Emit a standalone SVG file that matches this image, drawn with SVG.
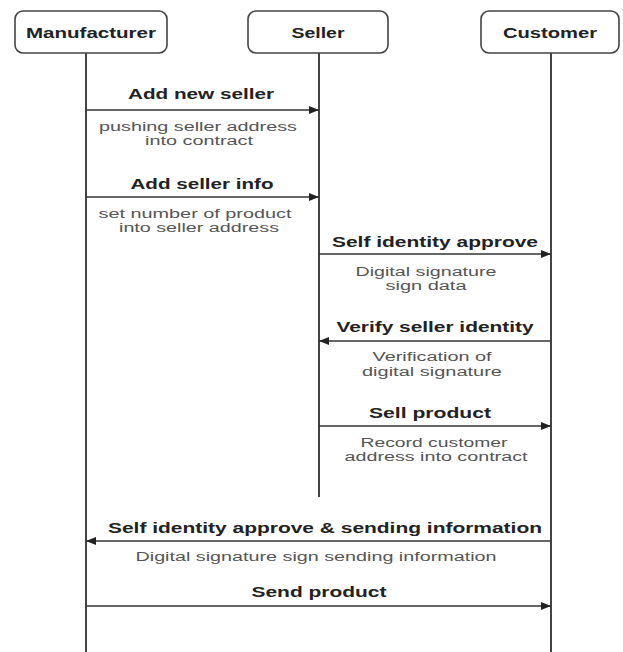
<svg xmlns="http://www.w3.org/2000/svg" width="623" height="652" viewBox="0 0 623 652">
<style>
.box{fill:#fff;stroke:#444;stroke-width:1.6}
.life{stroke:#444;stroke-width:2;fill:none}
.msg{stroke:#333;stroke-width:1.5;fill:none}
.t{font-family:"Liberation Sans",Arial,sans-serif;text-anchor:middle}
.b{font-weight:bold;font-size:14px;fill:#222}
.n{font-size:12px;fill:#555}
</style>
<defs>
<marker id="ah" viewBox="0 0 10 8" refX="10" refY="4" markerWidth="10" markerHeight="8" markerUnits="userSpaceOnUse" orient="auto">
<path d="M0,0 L10,4 L0,8 Z" fill="#222"/>
</marker>
</defs>
<rect width="623" height="652" fill="#fff"/>
<g id="lifelines">
<line class="life" x1="86" y1="53" x2="86" y2="652"/>
<line class="life" x1="319" y1="53" x2="319" y2="497"/>
<line class="life" x1="551" y1="53" x2="551" y2="652"/>
</g>
<g id="node-manufacturer">
<rect class="box" x="15" y="11" width="152" height="42" rx="8"/>
<text class="t b" x="91" y="38" textLength="130" lengthAdjust="spacingAndGlyphs">Manufacturer</text>
</g>
<g id="node-seller">
<rect class="box" x="248" y="11" width="140" height="42" rx="8"/>
<text class="t b" x="318" y="38" textLength="53" lengthAdjust="spacingAndGlyphs">Seller</text>
</g>
<g id="node-customer">
<rect class="box" x="481" y="11" width="138" height="42" rx="8"/>
<text class="t b" x="550" y="38" textLength="94" lengthAdjust="spacingAndGlyphs">Customer</text>
</g>
<g id="connectors">
<line class="msg" x1="86" y1="110" x2="319" y2="110" marker-end="url(#ah)"/>
<line class="msg" x1="86" y1="197" x2="319" y2="197" marker-end="url(#ah)"/>
<line class="msg" x1="319" y1="254" x2="551" y2="254" marker-end="url(#ah)"/>
<line class="msg" x1="551" y1="341" x2="319" y2="341" marker-end="url(#ah)"/>
<line class="msg" x1="319" y1="426" x2="551" y2="426" marker-end="url(#ah)"/>
<line class="msg" x1="551" y1="541" x2="86" y2="541" marker-end="url(#ah)"/>
<line class="msg" x1="86" y1="606" x2="551" y2="606" marker-end="url(#ah)"/>
</g>
<g id="labels">
<text class="t b" x="201" y="99" textLength="146" lengthAdjust="spacingAndGlyphs">Add new seller</text>
<text class="t n" x="198" y="131" textLength="198" lengthAdjust="spacingAndGlyphs">pushing seller address</text>
<text class="t n" x="199" y="145" textLength="108" lengthAdjust="spacingAndGlyphs">into contract</text>
<text class="t b" x="202" y="189" textLength="143" lengthAdjust="spacingAndGlyphs">Add seller info</text>
<text class="t n" x="195" y="218" textLength="193" lengthAdjust="spacingAndGlyphs">set number of product</text>
<text class="t n" x="199" y="232" textLength="160" lengthAdjust="spacingAndGlyphs">into seller address</text>
<text class="t b" x="435" y="247" textLength="206" lengthAdjust="spacingAndGlyphs">Self identity approve</text>
<text class="t n" x="426" y="276" textLength="141" lengthAdjust="spacingAndGlyphs">Digital signature</text>
<text class="t n" x="426" y="290" textLength="81" lengthAdjust="spacingAndGlyphs">sign data</text>
<text class="t b" x="435" y="332" textLength="197" lengthAdjust="spacingAndGlyphs">Verify seller identity</text>
<text class="t n" x="432" y="361" textLength="119" lengthAdjust="spacingAndGlyphs">Verification of</text>
<text class="t n" x="432" y="376" textLength="140" lengthAdjust="spacingAndGlyphs">digital signature</text>
<text class="t b" x="430" y="418" textLength="122" lengthAdjust="spacingAndGlyphs">Sell product</text>
<text class="t n" x="434" y="447" textLength="147" lengthAdjust="spacingAndGlyphs">Record customer</text>
<text class="t n" x="436" y="461" textLength="183" lengthAdjust="spacingAndGlyphs">address into contract</text>
<text class="t b" x="325" y="533" textLength="434" lengthAdjust="spacingAndGlyphs">Self identity approve &amp; sending information</text>
<text class="t n" x="316" y="561" textLength="361" lengthAdjust="spacingAndGlyphs">Digital signature sign sending information</text>
<text class="t b" x="319" y="597" textLength="135" lengthAdjust="spacingAndGlyphs">Send product</text>
</g>
</svg>
